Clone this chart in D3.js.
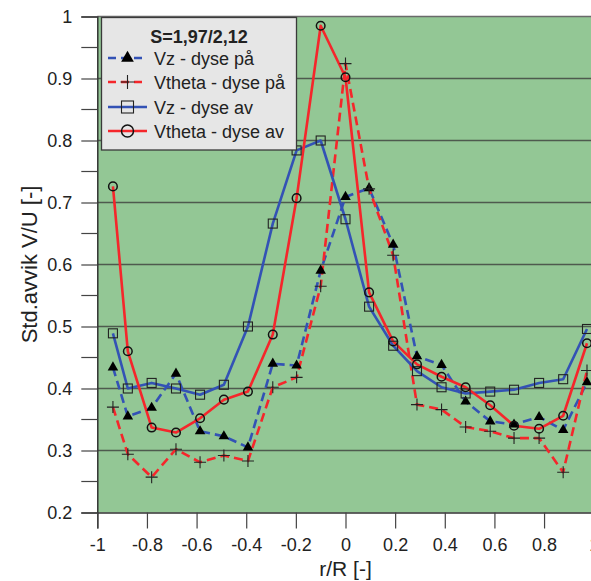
<!DOCTYPE html>
<html>
<head>
<meta charset="utf-8">
<script src="https://cdn.jsdelivr.net/npm/d3@7"></script>
<style>
  html, body { margin: 0; padding: 0; background: #ffffff; }
  svg { display: block; font-family: "Liberation Sans", Arial, sans-serif; }
</style>
</head>
<body>
<div id="chart"></div>
<script>
// Radial positions r/R of the measurement points
const rR = [-0.937, -0.877, -0.781, -0.683, -0.586, -0.490, -0.393, -0.293, -0.197, -0.100,
            0.000, 0.095, 0.192, 0.288, 0.387, 0.484, 0.583, 0.679, 0.780, 0.877, 0.973];

// Standard deviation V/U for each configuration
const vzOn     = [0.434, 0.355, 0.369, 0.424, 0.331, 0.323, 0.305, 0.440, 0.437, 0.590,
                  0.709, 0.723, 0.632, 0.452, 0.438, 0.379, 0.347, 0.342, 0.354, 0.333, 0.410];
const vthetaOn = [0.370, 0.294, 0.257, 0.302, 0.281, 0.292, 0.283, 0.402, 0.418, 0.565,
                  0.924, 0.722, 0.615, 0.374, 0.366, 0.338, 0.331, 0.320, 0.320, 0.265, 0.429];
const vzOff    = [0.489, 0.400, 0.409, 0.400, 0.390, 0.406, 0.500, 0.666, 0.784, 0.800,
                  0.673, 0.532, 0.469, 0.428, 0.402, 0.392, 0.395, 0.398, 0.409, 0.415, 0.496];
const vthetaOff= [0.726, 0.460, 0.337, 0.329, 0.352, 0.382, 0.395, 0.487, 0.707, 0.985,
                  0.902, 0.555, 0.476, 0.439, 0.419, 0.402, 0.373, 0.340, 0.335, 0.356, 0.473];

const seriesNames = ["Vz - dyse på", "Vtheta - dyse på", "Vz - dyse av", "Vtheta - dyse av"];
const legendTitle = "S=1,97/2,12";
const xTicks = [-1, -0.8, -0.6, -0.4, -0.2, 0, 0.2, 0.4, 0.6, 0.8, 1];
const yTicks = [0.2, 0.3, 0.4, 0.5, 0.6, 0.7, 0.8, 0.9, 1];
const yMinorTicks = [0.25, 0.35, 0.45, 0.55, 0.65, 0.75, 0.85, 0.95];
const xTitle = "r/R [-]";
const yTitle = "Std.avvik V/U [-]";

const W = 591, H = 581;
const BLUE = "#3352b5", RED = "#f5262b", GREEN = "#93c795";

const series = [
  { name: seriesNames[0], values: vzOn,      color: BLUE, dash: "9,5", marker: "triangle" },
  { name: seriesNames[1], values: vthetaOn,  color: RED,  dash: "9,5", marker: "plus" },
  { name: seriesNames[2], values: vzOff,     color: BLUE, dash: null,  marker: "square" },
  { name: seriesNames[3], values: vthetaOff, color: RED,  dash: null,  marker: "circle" }
];

const x = d3.scaleLinear().domain([-1, 1]).range([97.3, 593.7]);
const y = d3.scaleLinear().domain([0.2, 1]).range([512.5, 16.5]);

const svg = d3.select("#chart").append("svg").attr("width", W).attr("height", H);

// plot background
svg.append("rect")
  .attr("x", x(-1)).attr("y", y(1))
  .attr("width", x(1) - x(-1) + 4).attr("height", y(0.2) - y(1))
  .attr("fill", GREEN);

// horizontal gridlines
svg.append("g").selectAll("line")
  .data(yTicks.filter(v => v > 0.2))
  .join("line")
  .attr("x1", x(-1)).attr("x2", W)
  .attr("y1", d => y(d)).attr("y2", d => y(d))
  .attr("stroke", d => d === 1 ? "#6a6a6a" : "#4e5a4e")
  .attr("stroke-width", 1.6);

// y axis
const yAxis = d3.axisLeft(y)
  .tickValues(yTicks)
  .tickFormat(d => d === 1 ? "1" : d3.format(".1f")(d))
  .tickSize(16).tickPadding(9);
const gy = svg.append("g").attr("transform", `translate(${x(-1)},0)`).call(yAxis);
gy.select(".domain").attr("stroke", "#333").attr("stroke-width", 1.5);
gy.selectAll(".tick line").attr("stroke", "#444").attr("stroke-width", 1.2);
gy.selectAll(".tick text").attr("font-size", 18).attr("fill", "#222")
  .attr("font-family", "Liberation Sans, Arial, sans-serif");
gy.append("g").selectAll("line").data(yMinorTicks).join("line")
  .attr("x1", -16).attr("x2", 0)
  .attr("y1", d => y(d)).attr("y2", d => y(d))
  .attr("stroke", "#444").attr("stroke-width", 1.2);

// x axis
const xAxis = d3.axisBottom(x)
  .tickValues(xTicks)
  .tickFormat(d => d === 0 ? "0" : String(d))
  .tickSize(16).tickPadding(10);
const gx = svg.append("g").attr("transform", `translate(0,${y(0.2)})`).call(xAxis);
gx.select(".domain").attr("stroke", "#333").attr("stroke-width", 1.5);
gx.selectAll(".tick line").attr("stroke", "#444").attr("stroke-width", 1.2);
gx.selectAll(".tick text").attr("font-size", 18).attr("fill", "#222")
  .attr("font-family", "Liberation Sans, Arial, sans-serif");

// axis titles
svg.append("text")
  .attr("x", x(0)).attr("y", 576)
  .attr("text-anchor", "middle").attr("font-size", 21).attr("fill", "#222")
  .text(xTitle);
svg.append("text")
  .attr("transform", `translate(37,${(y(1) + y(0.2)) / 2}) rotate(-90)`)
  .attr("text-anchor", "middle").attr("font-size", 22).attr("fill", "#222")
  .text(yTitle);

// series lines
const line = d3.line().x(d => x(d[0])).y(d => y(d[1]));
series.forEach(s => {
  svg.append("path")
    .datum(rR.map((r, k) => [r, s.values[k]]))
    .attr("d", line)
    .attr("fill", "none")
    .attr("stroke", s.color)
    .attr("stroke-width", 2.6)
    .attr("stroke-dasharray", s.dash)
    .attr("stroke-linejoin", "round");
});

// markers
function drawMarker(g, type) {
  if (type === "triangle") {
    g.append("path").attr("d", d3.symbol(d3.symbolTriangle, 48)()).attr("fill", "#000");
  } else if (type === "plus") {
    g.append("path").attr("d", "M-6,0H6M0,-6V6").attr("stroke", "#222").attr("stroke-width", 1.1).attr("fill", "none");
  } else if (type === "square") {
    g.append("rect").attr("x", -4.5).attr("y", -4.5).attr("width", 9).attr("height", 9)
      .attr("fill", "none").attr("stroke", "#222").attr("stroke-width", 1.1);
  } else if (type === "circle") {
    g.append("circle").attr("r", 4.3).attr("fill", "none").attr("stroke", "#111").attr("stroke-width", 1.5);
  }
}
series.forEach(s => {
  rR.forEach((r, k) => {
    const g = svg.append("g").attr("transform", `translate(${x(r)},${y(s.values[k])})`);
    drawMarker(g, s.marker);
  });
});

// legend
const lg = svg.append("g");
lg.append("rect")
  .attr("x", 101.5).attr("y", 17.5).attr("width", 195).attr("height", 132.5)
  .attr("fill", "#e6e6e6").attr("stroke", "#3a3a3a").attr("stroke-width", 1.3);
lg.append("text")
  .attr("x", 199).attr("y", 43).attr("text-anchor", "middle")
  .attr("font-size", 18).attr("font-weight", "bold").attr("fill", "#222")
  .text(legendTitle);
const rowY = [58, 82, 107, 131];
series.forEach((s, i) => {
  const yy = rowY[i];
  lg.append("line")
    .attr("x1", 108).attr("x2", 147).attr("y1", yy).attr("y2", yy)
    .attr("stroke", s.color).attr("stroke-width", 2.6)
    .attr("stroke-dasharray", s.dash ? "8,5" : null);
  const g = lg.append("g").attr("transform", `translate(127.5,${yy})`);
  if (s.marker === "circle") {
    g.append("circle").attr("r", 6).attr("fill", "none").attr("stroke", "#111").attr("stroke-width", 1.5);
  } else if (s.marker === "square") {
    g.append("rect").attr("x", -6).attr("y", -6).attr("width", 12).attr("height", 12)
      .attr("fill", "none").attr("stroke", "#222").attr("stroke-width", 1.1);
  } else if (s.marker === "triangle") {
    g.append("path").attr("d", d3.symbol(d3.symbolTriangle, 70)()).attr("fill", "#000");
  } else {
    g.append("path").attr("d", "M-7,0H7M0,-7V7").attr("stroke", "#222").attr("stroke-width", 1.1);
  }
  lg.append("text")
    .attr("x", 154).attr("y", yy + 6.5)
    .attr("font-size", 18).attr("fill", "#222")
    .text(s.name);
});
</script>
</body>
</html>
